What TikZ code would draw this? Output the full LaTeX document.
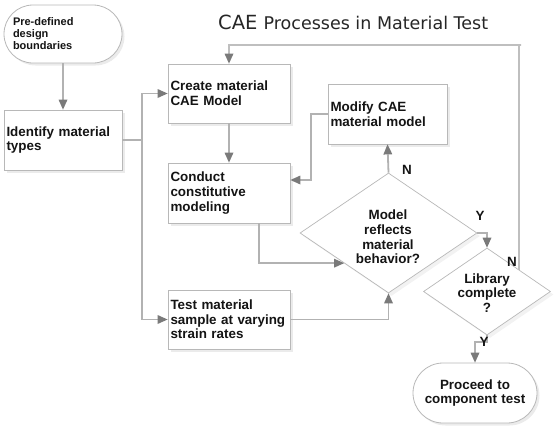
\documentclass[tikz,border=0pt]{standalone}
\usepackage{fontspec}
\setmainfont{Liberation Sans}
\newfontfamily\titlefont{DejaVu Sans}
\usetikzlibrary{arrows.meta,shapes.geometric,shadows}
\begin{document}
\begin{tikzpicture}[x=1pt,y=-1pt,
  boxfont/.style={font=\bfseries\fontsize{13.4}{14.6}\selectfont, text=black!92},
  procbox/.style={boxfont, draw=black!28, line width=0.8pt, fill=white, rectangle,
     inner xsep=2.5pt, inner ysep=0pt, align=left,
     drop shadow={opacity=0.16, shadow xshift=2.5pt, shadow yshift=-2.5pt}},
  termbox/.style={procbox, align=center},
  decbox/.style={draw=black!28, line width=0.7pt, fill=white, diamond, inner sep=0pt,
     drop shadow={opacity=0.10, shadow xshift=3pt, shadow yshift=-3pt}},
  dectext/.style={boxfont, align=center, inner sep=0pt},
  conn/.style={draw=black!30, line width=1.8pt},
  arr/.style={conn, -{Triangle[length=10pt,width=9pt,line width=0pt,fill=black!52,color=black!52]}},
  thinconn/.style={draw=black!25, line width=1.2pt},
  thinarr/.style={thinconn, -{Triangle[length=10pt,width=9pt,line width=0pt,fill=black!52,color=black!52]}},
  yn/.style={boxfont, inner sep=0pt}
]
\useasboundingbox (0,0) rectangle (560,434);

% title
\node[anchor=base west, inner sep=0pt, text=black!85] (title) at (218,29)
  {\titlefont\fontsize{19.5}{22}\selectfont CAE \fontsize{17.5}{22}\selectfont Processes in Material Test};

% nodes
\node[procbox, rounded corners=29pt, minimum width=118pt, minimum height=58pt,
      text width=100pt, inner xsep=9pt, font=\bfseries\fontsize{11}{12}\selectfont] (pre) at (63,34)
  {Pre-defined\\design\\boundaries};
\node[procbox, minimum width=118pt, minimum height=60pt, text width=113pt] (ident) at (63,140)
  {Identify material\\types};
\node[procbox, minimum width=122pt, minimum height=59pt, text width=117pt] (create) at (229,93.5)
  {Create material\\CAE Model};
\node[procbox, minimum width=122pt, minimum height=60pt, text width=117pt] (conduct) at (229,193)
  {Conduct\\constitutive\\modeling};
\node[procbox, minimum width=122pt, minimum height=59pt, text width=117pt] (test) at (229,319.5)
  {Test material\\sample at varying\\strain rates};
\node[procbox, minimum width=119pt, minimum height=60pt, text width=114pt] (modify) at (387.5,114)
  {Modify CAE\\material model};
\node[decbox, minimum width=177pt, minimum height=120pt] (d1) at (388.5,233) {};
\node[dectext] (d1t) at (388,237) {Model\\reflects\\material\\behavior?};
\node[decbox, minimum width=127pt, minimum height=87pt] (d2) at (487,291.5) {};
\node[dectext] (d2t) at (487,293) {Library\\complete\\?};
\node[termbox, rounded corners=30pt, minimum width=124pt, minimum height=60pt, text width=110pt] (proceed) at (475,393)
  {Proceed to\\component test};

% helper coordinates
\coordinate (bus) at (142,140);
\coordinate (mbend) at (311,180);
\coordinate (loop) at (521,45);

% connectors
\draw[arr] (pre.south) -- (ident.north);
\draw[conn] (ident.east) -- (bus);
\draw[arr] (bus) |- (create.west);
\draw[arr] (bus) |- (test.west);
\draw[arr] (create.south) -- (conduct.north);
\draw[arr] (modify.west) -| (mbend) -- (mbend -| conduct.east);
\draw[arr] ([xshift=30pt]conduct.south) |- (d1.south west);
\draw[arr] (test.east) -| (d1.south);
\draw[arr] (d1.north) -- (modify.south);
\draw[arr] (d1.east) -| (d2.north);
\draw[thinarr] (d2.north east) |- (loop) -| (create.north);
\draw[arr] (d2.south) -- ++(0,7) -| (proceed.north);

% labels
\node[yn] (n1) at (407,170) {N};
\node[yn] (y1) at (480,216) {Y};
\node[yn] (n2) at (512,262) {N};
\node[yn] (y2) at (484,342) {Y};
\end{tikzpicture}
\end{document}
